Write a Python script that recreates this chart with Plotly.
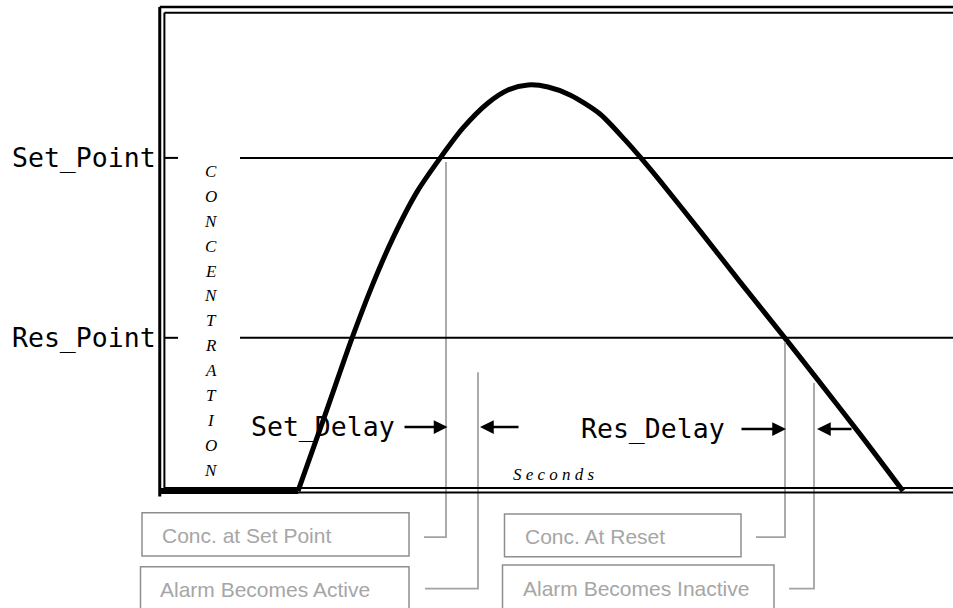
import plotly.graph_objects as go

# ---------------- data (seconds / concentration units) ----------------
time_s = [26.6, 32.0, 37.4, 41.5, 45.6, 50.4, 55.2, 59.6, 64.6, 68.6, 72.6,
          76.6, 81.0, 87.0, 92.0, 95.0, 99.0, 107.0, 115.0, 124.0, 130.6, 139.0, 147.6]
concentration = [0, 22.8, 45.9, 61.9, 76.0, 89.8, 100.3, 109.0, 116.5, 120.4, 121.9,
                 121.3, 118.9, 113.2, 105.4, 100.3, 93.1, 78.1, 62.8, 45.9, 33.3, 17.1, 0]
baseline_t = [-1.0, 26.6]
baseline_c = [0, 0]

threshold_names = ["Set_Point", "Res_Point"]
threshold_values = [100, 46]

event_names = ["Conc. at Set Point", "Alarm Becomes Active",
               "Conc. At Reset", "Alarm Becomes Inactive"]
event_times = [56.2, 62.6, 124.0, 129.8]
event_top = [98.8, 35.7, 44.7, 32.4]

delay_names = ["Set_Delay", "Res_Delay"]

y_label = "CONCENTRATION"
x_label = "Seconds"

# ---------------- layout constants ----------------
X_RANGE = [-33, 157.6]
Y_RANGE = [-35.1, 147.4]
GRAY_LINE = "#a3a3a3"
GRAY_BOX = "#8e8e8e"
GRAY_TEXT = "#a6a6a6"
MONO = "DejaVu Sans Mono"
SERIF = "Liberation Serif"
SANS = "Liberation Sans"

fig = go.Figure()

# main curve
fig.add_trace(go.Scatter(x=time_s, y=concentration, mode="lines",
                         line=dict(color="black", width=5, shape="spline", smoothing=0.8),
                         hoverinfo="skip"))
fig.add_trace(go.Scatter(x=baseline_t, y=baseline_c, mode="lines",
                         line=dict(color="black", width=6), hoverinfo="skip"))

shapes = []
# double frame (left, top, bottom)
frame_lines = [
    (-1.05, -1.6, -1.05, 145.3, 3),   # outer left
    (-0.12, 0.9, -0.12, 143.6, 2),    # inner left
    (-1.05, 145.3, 170, 145.3, 2.5),  # outer top
    (-0.12, 143.6, 170, 143.6, 2),    # inner top
    (-0.12, 0.9, 170, 0.9, 2),        # inner bottom
    (-1.05, -0.45, 170, -0.45, 2),    # outer bottom
]
for x0, y0, x1, y1, w in frame_lines:
    shapes.append(dict(type="line", xref="x", yref="y", x0=x0, y0=y0, x1=x1, y1=y1,
                       line=dict(color="black", width=w)))

# threshold lines, ticks and labels
annotations = []
for name, val in zip(threshold_names, threshold_values):
    shapes.append(dict(type="line", xref="x", yref="y", x0=15, x1=170, y0=val, y1=val,
                       line=dict(color="black", width=2)))
    shapes.append(dict(type="line", xref="x", yref="y", x0=-0.1, x1=2.6, y0=val, y1=val,
                       line=dict(color="black", width=2)))
    annotations.append(dict(x=-1.5, y=val, xref="x", yref="y", text=name, showarrow=False,
                            xanchor="right", yanchor="middle",
                            font=dict(family=MONO, size=26.5, color="black")))

# event connector lines (vertical drop then short horizontal to the box)
elbow_c = [-13.8, -29.3, -13.8, -29.3]
elbow_t = [51.8, 52.0, 118.2, 124.8]
for t, top, ec, et in zip(event_times, event_top, elbow_c, elbow_t):
    fig.add_trace(go.Scatter(x=[t, t, et], y=[top, ec, ec], mode="lines",
                             line=dict(color=GRAY_LINE, width=1.8), hoverinfo="skip"))

# event boxes
box_x0 = [-4.6, -4.9, 67.9, 67.5]
box_x1 = [48.8, 48.8, 115.2, 121.8]
box_y0 = [-6.5, -22.7, -6.9, -22.2]
box_y1 = [-19.5, -36.5, -19.7, -36.5]
text_x = [-1.1, -1.5, 71.6, 71.1]
text_y = [-13.4, -29.4, -13.6, -29.2]
for name, bx0, bx1, by0, by1, tx, ty in zip(event_names, box_x0, box_x1, box_y0, box_y1,
                                            text_x, text_y):
    shapes.append(dict(type="rect", xref="x", yref="y", x0=bx0, x1=bx1, y0=by0, y1=by1,
                       line=dict(color=GRAY_BOX, width=1.5), fillcolor="rgba(0,0,0,0)"))
    annotations.append(dict(x=tx, y=ty, xref="x", yref="y", text=name, showarrow=False,
                            xanchor="left", yanchor="middle",
                            font=dict(family=SANS, size=21, color=GRAY_TEXT)))

# delay labels with arrows
delay_label_x = [46.4, 112.4]
delay_y = [19.2, 18.6]
right_tail = [47.6, 115.0]
right_head = [56.5, 124.2]
left_tail = [71.0, 137.6]
left_head = [63.0, 130.4]
for name, lx, y, rt, rh, lt, lh in zip(delay_names, delay_label_x, delay_y,
                                       right_tail, right_head, left_tail, left_head):
    annotations.append(dict(x=lx, y=y, xref="x", yref="y", text=name, showarrow=False,
                            xanchor="right", yanchor="middle",
                            font=dict(family=MONO, size=26.5, color="black")))
    for tail, head in [(rt, rh), (lt, lh)]:
        annotations.append(dict(x=head, y=y, ax=tail, ay=y, xref="x", yref="y",
                                axref="x", ayref="y", text="", showarrow=True,
                                arrowhead=2, arrowsize=1.1, arrowwidth=2.5,
                                arrowcolor="black", standoff=0, startstandoff=0))

# vertical y label letters
for i, ch in enumerate(y_label):
    annotations.append(dict(x=9.2, y=95.9 - i * 7.465, xref="x", yref="y",
                            text="<i>" + ch + "</i>", showarrow=False,
                            xanchor="center", yanchor="middle",
                            font=dict(family=SERIF, size=17, color="black")))

# x label, letter spaced
annotations.append(dict(x=77.8, y=5.1, xref="x", yref="y",
                        text="<i>" + " ".join(x_label) + "</i>", showarrow=False,
                        xanchor="center", yanchor="middle",
                        font=dict(family=SERIF, size=17, color="black")))

fig.update_layout(
    width=953, height=608,
    margin=dict(l=0, r=0, t=0, b=0),
    paper_bgcolor="white", plot_bgcolor="white",
    showlegend=False,
    xaxis=dict(range=X_RANGE, visible=False, fixedrange=True),
    yaxis=dict(range=Y_RANGE, visible=False, fixedrange=True),
    shapes=shapes,
    annotations=annotations,
)

fig.write_html("out.html", config={"displayModeBar": False},
               post_script="document.body.style.margin='0px';")
